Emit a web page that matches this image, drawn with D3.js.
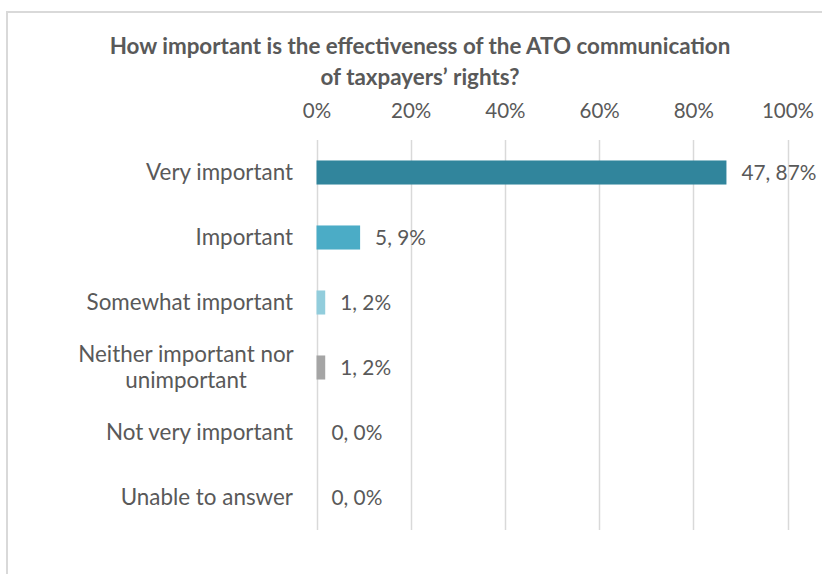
<!DOCTYPE html>
<html>
<head>
<meta charset="utf-8">
<script src="https://cdn.jsdelivr.net/npm/d3@7"></script>
<style>
  html, body { margin: 0; padding: 0; background: #fff; }
  svg { display: block; }
  text { font-family: Lato, "Open Sans", sans-serif; fill: #595959; }
</style>
</head>
<body>
<svg id="chart" width="822" height="574"></svg>
<script>
// Survey responses: how important is the ATO's communication of taxpayers' rights
const categories = [
  "Very important",
  "Important",
  "Somewhat important",
  "Neither important nor unimportant",
  "Not very important",
  "Unable to answer"
];
const counts = [47, 5, 1, 1, 0, 0];
const colors = ["#31859c", "#4bacc6", "#92cddc", "#a5a5a5", "#a5a5a5", "#a5a5a5"];
const tickValues = [0, 0.2, 0.4, 0.6, 0.8, 1.0];
const titleLines = [
  "How important is the effectiveness of the ATO communication",
  "of taxpayers\u2019 rights?"
];

const total = d3.sum(counts);
const shares = counts.map(c => c / total);

const svg = d3.select("#chart");
const W = 822, H = 574;

// Chart frame (open on the right and bottom edges of the view)
svg.append("path")
  .attr("d", `M7,${H} V12 H${W}`)
  .attr("fill", "none")
  .attr("stroke", "#d9d9d9")
  .attr("stroke-width", 2);

// Title
svg.append("g")
  .selectAll("text")
  .data(titleLines)
  .join("text")
  .attr("x", 420)
  .attr("y", (d, i) => 54 + i * 31)
  .attr("text-anchor", "middle")
  .attr("font-weight", "bold")
  .attr("font-size", 22.4)
  .text(d => d);

const x = d3.scaleLinear().domain([0, 1]).range([316.5, 787.5]);
const y = d3.scaleBand()
  .domain(categories)
  .range([140, 530])
  .paddingInner(0.63)
  .paddingOuter(0.315);

// Vertical gridlines
svg.append("g")
  .selectAll("line")
  .data(tickValues)
  .join("line")
  .attr("x1", d => Math.round(x(d)) + 0.5)
  .attr("x2", d => Math.round(x(d)) + 0.5)
  .attr("y1", 140)
  .attr("y2", 530)
  .attr("stroke", "#d9d9d9")
  .attr("stroke-width", 1.5);

// Top axis labels
const xAxis = d3.axisTop(x)
  .tickValues(tickValues)
  .tickFormat(d3.format(".0%"))
  .tickSize(0)
  .tickPadding(0);
const gx = svg.append("g")
  .attr("transform", "translate(0,118)")
  .call(xAxis);
gx.select(".domain").remove();
gx.selectAll("text")
  .attr("font-family", "Lato, sans-serif")
  .attr("font-size", 20.5)
  .attr("fill", "#595959");

// Bars
svg.append("g")
  .selectAll("rect")
  .data(categories)
  .join("rect")
  .attr("x", x(0))
  .attr("y", d => y(d))
  .attr("width", (d, i) => x(shares[i]) - x(0))
  .attr("height", y.bandwidth())
  .attr("fill", (d, i) => colors[i]);

// Value labels: count, share
const fmt = d3.format(".0%");
svg.append("g")
  .selectAll("text")
  .data(categories)
  .join("text")
  .attr("x", (d, i) => x(shares[i]) + 15)
  .attr("y", d => y(d) + y.bandwidth() / 2)
  .attr("dy", "0.35em")
  .attr("font-size", 20.8)
  .text((d, i) => `${counts[i]}, ${fmt(shares[i])}`);

// Category labels, wrapped where needed
const catLines = {
  "Neither important nor unimportant": ["Neither important nor", "unimportant"]
};
const gy = svg.append("g");
categories.forEach(c => {
  const lines = catLines[c] || [c];
  const cy = y(c) + y.bandwidth() / 2;
  const t = gy.append("text")
    .attr("font-size", 22.4);
  lines.forEach((ln, j) => {
    t.append("tspan")
      .attr("x", lines.length > 1 ? 186 : 293)
      .attr("text-anchor", lines.length > 1 ? "middle" : "end")
      .attr("y", cy + (j - (lines.length - 1) / 2) * 26)
      .attr("dy", "0.35em")
      .text(ln);
  });
});
</script>
</body>
</html>
